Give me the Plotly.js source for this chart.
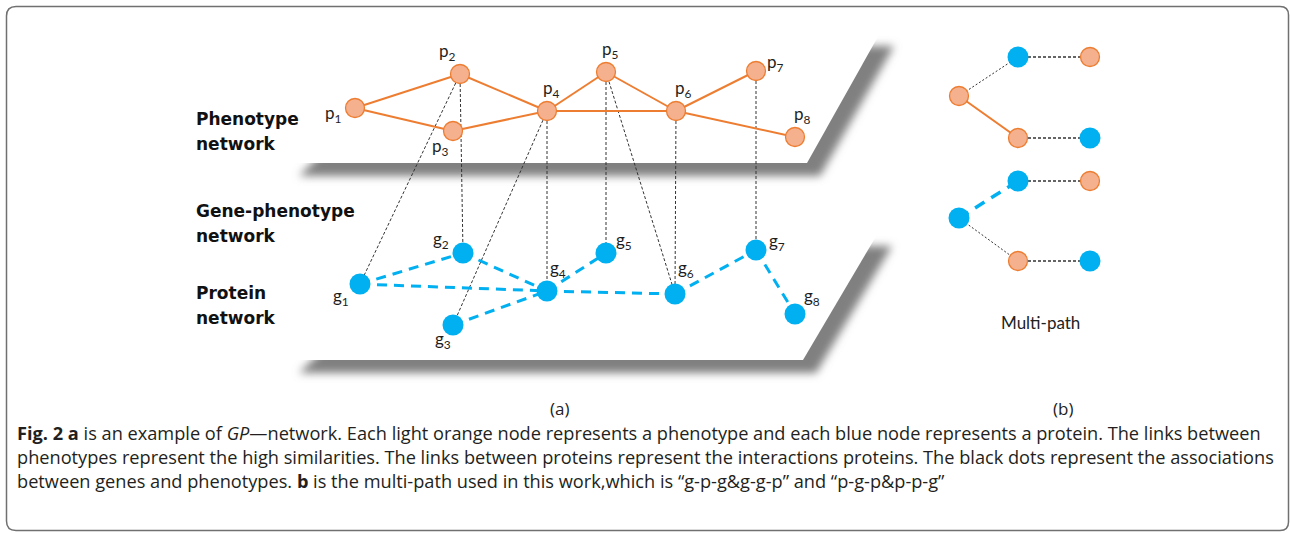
<!DOCTYPE html>
<html>
<head>
<meta charset="utf-8">
<script src="https://cdn.plot.ly/plotly-3.0.1.min.js"></script>
<style>
  html, body { margin: 0; padding: 0; background: #ffffff; }
  #fig { width: 1290px; height: 533px; }
</style>
</head>
<body>
<div id="fig"></div>
<script>
// ---- Panel (a): phenotype layer ----
const phenoLabels = ['p<sub>1</sub>', 'p<sub>2</sub>', 'p<sub>3</sub>', 'p<sub>4</sub>',
                     'p<sub>5</sub>', 'p<sub>6</sub>', 'p<sub>7</sub>', 'p<sub>8</sub>'];
const phenoX = [355, 460, 453, 547, 606, 676, 756, 795];
const phenoY = [108, 74, 131, 111, 72, 111, 71, 137];
// phenotype-phenotype similarity links (indices into phenotype nodes)
const phenoLinks = [[0, 1], [0, 2], [1, 3], [2, 3], [3, 4], [4, 5], [3, 5], [5, 6], [5, 7]];

// ---- Panel (a): protein layer ----
const geneLabels = ['g<sub>1</sub>', 'g<sub>2</sub>', 'g<sub>3</sub>', 'g<sub>4</sub>',
                    'g<sub>5</sub>', 'g<sub>6</sub>', 'g<sub>7</sub>', 'g<sub>8</sub>'];
const geneX = [360, 463, 453, 547, 606, 675, 756, 795];
const geneY = [284, 253, 325, 291, 253, 294, 250, 314];
// protein-protein interaction links
const proteinLinks = [[0, 1], [0, 3], [1, 3], [2, 3], [3, 4], [3, 5], [5, 6], [6, 7]];
// gene-phenotype associations: [phenotype index, gene index]
const assocLinks = [[1, 0], [1, 1], [3, 2], [3, 3], [4, 4], [4, 5], [5, 5], [6, 6]];

// ---- Panel (b): multi-path ----
const multiKind = ['p', 'g', 'p', 'p', 'g', 'g', 'p', 'g', 'p', 'g'];
const multiX = [959, 1018, 1090, 1018, 1090, 1018, 1090, 959, 1018, 1090];
const multiY = [96, 57, 57, 138, 138, 181, 181, 218, 261, 261];
const multiPhenoLinks = [[0, 3]];
const multiProteinLinks = [[7, 5]];
const multiAssocLinks = [[0, 1], [7, 8]];
const multiPathLinks = [[1, 2], [3, 4], [5, 6], [8, 9]];

// ---- Text ----
const layerTitles = ['Phenotype', 'network', 'Gene-phenotype', 'network', 'Protein', 'network'];
const panelTags = ['(a)', '(b)'];
const captionLines = [
  '<b>Fig. 2 a</b> is an example of <i>GP</i>\u2014network. Each light orange node represents a phenotype and each blue node represents a protein. The links between',
  'phenotypes represent the high similarities. The links between proteins represent the interactions proteins. The black dots represent the associations',
  'between genes and phenotypes. <b>b</b> is the multi-path used in this work,which is \u201cg-p-g&amp;g-g-p\u201d and \u201cp-g-p&amp;p-p-g\u201d'
];

// ---- Styles ----
const ORANGE_LINE = '#ED7D31';
const ORANGE_FILL = '#F5B08E';
const BLUE = '#00B0F0';
const DOT = '#333333';
const SHADOW = 'rgb(128, 128, 128)';

function segments(links, ax, ay, bx, by) {
  const x = [], y = [];
  links.forEach(([i, j]) => { x.push(ax[i], bx[j], null); y.push(ay[i], by[j], null); });
  return { x, y };
}

const assocSeg = segments(assocLinks, phenoX, phenoY, geneX, geneY);
const phenoSeg = segments(phenoLinks, phenoX, phenoY, phenoX, phenoY);
const protSeg = segments(proteinLinks, geneX, geneY, geneX, geneY);
const mAssoc = segments(multiAssocLinks, multiX, multiY, multiX, multiY);
const mPheno = segments(multiPhenoLinks, multiX, multiY, multiX, multiY);
const mProt = segments(multiProteinLinks, multiX, multiY, multiX, multiY);
const mPath = segments(multiPathLinks, multiX, multiY, multiX, multiY);

const lineTrace = (s, color, width, dash) => ({
  type: 'scatter', mode: 'lines', x: s.x, y: s.y, hoverinfo: 'skip',
  line: { color, width, dash }, connectgaps: false
});

const mp = multiKind.map((k, i) => i).filter(i => multiKind[i] === 'p');
const mg = multiKind.map((k, i) => i).filter(i => multiKind[i] === 'g');

const data = [
  lineTrace(assocSeg, DOT, 1, '3px,2px'),
  lineTrace(phenoSeg, ORANGE_LINE, 2, 'solid'),
  lineTrace(protSeg, BLUE, 3, '10px,7px'),
  lineTrace(mAssoc, DOT, 1, '2px,2px'),
  lineTrace(mPath, DOT, 1.4, '3px,2px'),
  lineTrace(mPheno, ORANGE_LINE, 2, 'solid'),
  lineTrace(mProt, BLUE, 3.5, '11px,8px'),
  { type: 'scatter', mode: 'markers', x: phenoX, y: phenoY, hoverinfo: 'skip',
    marker: { size: 19, color: ORANGE_FILL, line: { color: ORANGE_LINE, width: 1.3 } } },
  { type: 'scatter', mode: 'markers', x: geneX, y: geneY, hoverinfo: 'skip',
    marker: { size: 21, color: BLUE, line: { width: 0 } } },
  { type: 'scatter', mode: 'markers', x: mp.map(i => multiX[i]), y: mp.map(i => multiY[i]), hoverinfo: 'skip',
    marker: { size: 19, color: ORANGE_FILL, line: { color: ORANGE_LINE, width: 1.3 } } },
  { type: 'scatter', mode: 'markers', x: mg.map(i => multiX[i]), y: mg.map(i => multiY[i]), hoverinfo: 'skip',
    marker: { size: 21, color: BLUE, line: { width: 0 } } }
];

// label offsets from each node centre
const phenoLabelOff = [[-22, 6], [-13, -22], [-13, 16], [4, -22], [4, -22], [7, -22], [19, -8], [7, -22]];
const geneLabelOff = [[-19, 13], [-22, -13], [-10, 15], [11, -22], [18, -12], [11, -25], [21, -8], [17, -17]];

const annotations = [];
const labelFont = { family: 'Lato, sans-serif', size: 17, color: '#1e1e1e' };
phenoLabels.forEach((t, i) => annotations.push({
  x: phenoX[i] + phenoLabelOff[i][0], y: phenoY[i] + phenoLabelOff[i][1], text: t,
  showarrow: false, xanchor: 'center', yanchor: 'middle', font: labelFont
}));
geneLabels.forEach((t, i) => annotations.push({
  x: geneX[i] + geneLabelOff[i][0], y: geneY[i] + geneLabelOff[i][1], text: t,
  showarrow: false, xanchor: 'center', yanchor: 'middle', font: labelFont
}));
const titleY = [119, 144, 211, 236, 293, 318];
layerTitles.forEach((t, i) => annotations.push({
  x: 194, y: titleY[i], text: '<b>' + t + '</b>', showarrow: false,
  xanchor: 'left', yanchor: 'middle',
  font: { family: 'DejaVu Sans, sans-serif', size: 17, color: '#111111' }
}));
const tagX = [559, 1063];
panelTags.forEach((t, i) => annotations.push({
  x: tagX[i], y: 408, text: t, showarrow: false, xanchor: 'center', yanchor: 'middle',
  font: { family: 'Open Sans, sans-serif', size: 17, color: '#222222' }
}));
annotations.push({
  x: 1040, y: 322, text: 'Multi-path', showarrow: false, xanchor: 'center', yanchor: 'middle',
  font: { family: 'Lato, sans-serif', size: 17, color: '#222222' }
});
const capY = [433, 457, 481];
captionLines.forEach((t, i) => annotations.push({
  x: 15, y: capY[i], text: t, showarrow: false, xanchor: 'left', yanchor: 'middle',
  font: { family: 'Open Sans, sans-serif', size: 18.2, color: '#231f20' }
}));

function poly(pts) { return 'M' + pts.map(p => p[0] + ',' + p[1]).join(' L') + ' Z'; }

const shapes = [
  // upper plane (phenotype) with its drop shadow
  { type: 'path', layer: 'below', xref: 'x', yref: 'y', fillcolor: SHADOW, line: { width: 0 },
    path: poly([[299, 176], [820, 176], [894, 46], [430, 46]]) },
  { type: 'path', layer: 'below', xref: 'x', yref: 'y', fillcolor: '#ffffff', line: { width: 0 },
    path: poly([[290, 163], [807, 163], [880, 33], [365, 33]]) },
  // lower plane (protein) with its drop shadow
  { type: 'path', layer: 'below', xref: 'x', yref: 'y', fillcolor: SHADOW, line: { width: 0 },
    path: poly([[299, 373], [816, 373], [892, 246], [430, 246]]) },
  { type: 'path', layer: 'below', xref: 'x', yref: 'y', fillcolor: '#ffffff', line: { width: 0 },
    path: poly([[290, 360], [803, 360], [878, 233], [365, 233]]) },
  // figure frame
  { type: 'path', layer: 'below', xref: 'x', yref: 'y', fillcolor: 'rgba(0,0,0,0)',
    line: { color: '#707070', width: 1.5 },
    path: 'M6.5,16 Q6.5,6.5 16,6.5 L1280,6.5 Q1288.5,6.5 1288.5,15 L1288.5,522 Q1288.5,530.5 1280,530.5 L16,530.5 Q6.5,530.5 6.5,521 Z' }
];

const layout = {
  width: 1290, height: 533,
  margin: { l: 0, r: 0, t: 0, b: 0, pad: 0 },
  paper_bgcolor: '#ffffff', plot_bgcolor: '#ffffff',
  showlegend: false,
  xaxis: { range: [0, 1290], visible: false, fixedrange: true },
  yaxis: { range: [533, 0], visible: false, fixedrange: true },
  shapes, annotations
};

Plotly.newPlot('fig', data, layout, { staticPlot: true, displayModeBar: false }).then(gd => {
  // soften the plane shadows with a gaussian blur
  const ns = 'http://www.w3.org/2000/svg';
  const svg = gd.querySelector('svg.main-svg');
  let defs = svg.querySelector('defs');
  if (!defs) { defs = document.createElementNS(ns, 'defs'); svg.insertBefore(defs, svg.firstChild); }
  const f = document.createElementNS(ns, 'filter');
  f.setAttribute('id', 'plane-shadow');
  f.setAttribute('x', '-10%'); f.setAttribute('y', '-20%');
  f.setAttribute('width', '120%'); f.setAttribute('height', '140%');
  const blur = document.createElementNS(ns, 'feGaussianBlur');
  blur.setAttribute('stdDeviation', '4.5');
  f.appendChild(blur);
  defs.appendChild(f);
  gd.querySelectorAll('.shapelayer path').forEach(p => {
    if (p.style.fill === SHADOW) p.setAttribute('filter', 'url(#plane-shadow)');
  });
});
</script>
</body>
</html>
